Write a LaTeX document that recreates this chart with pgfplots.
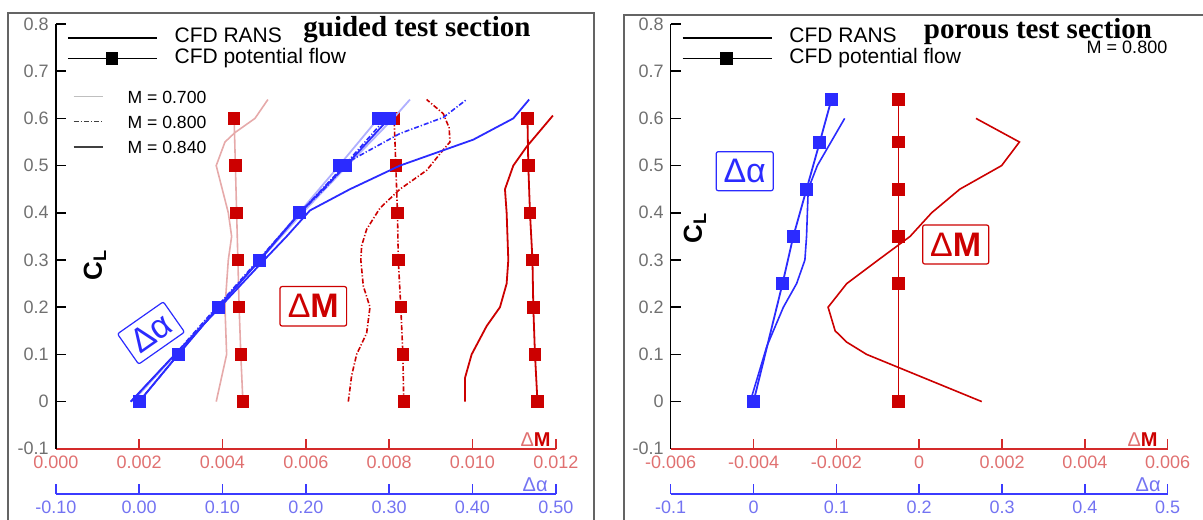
\documentclass[border=0pt]{standalone}
\usepackage{fontspec}
\setmainfont{Liberation Sans}
\newfontfamily\titlefont{Liberation Serif}
\usepackage{pgfplots}
\pgfplotsset{compat=1.18}

\definecolor{dblue}{HTML}{2B2BFF}
\definecolor{lblue}{HTML}{B0B0FF}
\definecolor{dred}{HTML}{CC0000}
\definecolor{lred}{HTML}{E6AAAA}
\definecolor{axred}{HTML}{D42A2A}
\definecolor{axblue}{HTML}{3B3BFF}
\definecolor{redlab}{HTML}{E07070}
\definecolor{bluelab}{HTML}{7373F2}
\definecolor{graylab}{HTML}{707070}
\definecolor{framec}{HTML}{646464}

\pgfplotsset{
  panel/.style={scale only axis, clip=false, ymin=-0.1, ymax=0.8,
    height=212.4pt, anchor=south west,
    tick label style={font=\fontsize{9}{10}\selectfont},
    scaled x ticks=false, scaled y ticks=false},
  mainax/.style={panel,
    axis x line*=bottom, axis y line*=left,
    x axis line style={draw=axred, line width=0.75pt},
    y axis line style={draw=black, line width=0.75pt},
    xtick align=inside, ytick align=inside,
    major tick length=5pt,
    xtick style={draw=axred, line width=0.75pt},
    ytick style={draw=black, line width=0.75pt},
    xticklabel style={text=redlab},
    yticklabel style={text=graylab},
    ytick={-0.1,0,0.1,0.2,0.3,0.4,0.5,0.6,0.7,0.8},
    yticklabels={-0.1,0,0.1,0.2,0.3,0.4,0.5,0.6,0.7,0.8},
    legend cell align=left,
    legend style={at={(0.0224,0.9906)}, anchor=north west, draw=none, fill=none,
      inner sep=0pt, outer sep=0pt, row sep=0.35pt, column sep=8.5pt,
      font=\fontsize{10.5}{12}\selectfont,
      nodes={inner sep=0pt, text height=7.5pt, text depth=2.5pt}},
    legend image code/.code={\draw[mark repeat=2,mark phase=2,##1] plot coordinates {(0pt,0pt) (22pt,0pt) (44.5pt,0pt)};},
  },
  blueax/.style={panel, hide axis, xmin=-0.1, xmax=0.5},
  alphaax/.style={scale only axis, anchor=south west, height=1pt, ymin=0, ymax=1,
    xmin=-0.1, xmax=0.5, axis x line*=bottom, axis y line=none, ytick=\empty,
    x axis line style={draw=axblue, line width=0.75pt},
    xtick align=inside, major tick length=5pt,
    xtick style={draw=axblue, line width=0.75pt},
    xticklabel style={text=bluelab},
    tick label style={font=\fontsize{9}{10}\selectfont},
    scaled x ticks=false,
    xtick={-0.1,0,0.1,0.2,0.3,0.4,0.5}},
  ddot/.style={dash pattern=on 2.5pt off 1pt on 0.6pt off 1pt},
  rpot/.style={mark=square*, mark size=2.7pt, mark options={solid, fill=dred, draw=dred}},
  bpot/.style={mark=square*, mark size=2.8pt, mark options={solid, fill=dblue, draw=dblue}},
}

\begin{document}
\begin{tikzpicture}
\useasboundingbox (0,0) rectangle (601.5pt,259.5pt);
% frames
\draw[framec, line width=0.75pt] (4pt,-10pt) -- (4pt,253pt) -- (297pt,253pt) -- (297pt,-10pt);
\draw[framec, line width=0.75pt] (312pt,-10pt) -- (312pt,252pt) -- (620pt,252pt);

%================ LEFT PANEL =================
\begin{axis}[mainax, at={(27.9pt,35.1pt)}, width=250pt,
  xmin=0, xmax=0.012,
  xtick={0,0.002,0.004,0.006,0.008,0.010,0.012},
  xticklabels={0.000,0.002,0.004,0.006,0.008,0.010,0.012}]
\addlegendimage{black, line width=0.8pt}
\addlegendentry{CFD RANS}
\addlegendimage{black, line width=0.8pt, mark=square*, mark size=2.7pt}
\addlegendentry{CFD potential flow}
% M=0.70
\addplot[lred, line width=0.8pt, forget plot] coordinates {(0.00385,0) (0.0041,0.1) (0.00406,0.2) (0.00414,0.3) (0.00422,0.35) (0.00414,0.4) (0.00385,0.5) (0.00406,0.55) (0.0043,0.57) (0.00478,0.6) (0.00509,0.64)};
\addplot[lred, line width=0.8pt, rpot, forget plot] coordinates {(0.00449,0) (0.00444,0.1) (0.00440,0.2) (0.00437,0.3) (0.00434,0.4) (0.00431,0.5) (0.00428,0.6)};
% M=0.80
\addplot[dred, line width=0.8pt, ddot, forget plot] coordinates {(0.00702,0) (0.0071,0.055) (0.00722,0.1) (0.00746,0.145) (0.00754,0.2) (0.00738,0.245) (0.00732,0.3) (0.00734,0.33) (0.00746,0.365) (0.00778,0.41) (0.00826,0.45) (0.0089,0.49) (0.00922,0.525) (0.00946,0.55) (0.00944,0.58) (0.0093,0.61) (0.0089,0.64)};
\addplot[dred, line width=0.8pt, ddot, rpot, forget plot] coordinates {(0.00835,0) (0.00833,0.1) (0.00828,0.2) (0.00822,0.3) (0.0082,0.4) (0.00816,0.5) (0.00812,0.6)};
% M=0.84
\addplot[dred, line width=0.9pt, forget plot] coordinates {(0.00982,0) (0.00982,0.05) (0.00998,0.1) (0.01034,0.16) (0.01066,0.2) (0.01082,0.25) (0.01086,0.3) (0.01082,0.4) (0.01078,0.45) (0.01098,0.5) (0.0113,0.54) (0.01193,0.606)};
\addplot[dred, line width=0.9pt, rpot, forget plot] coordinates {(0.01156,0) (0.0115,0.1) (0.01146,0.2) (0.01144,0.3) (0.01138,0.4) (0.01134,0.5) (0.01132,0.6)};
\end{axis}

\begin{axis}[blueax, at={(27.9pt,35.1pt)}, width=250pt,
  legend cell align=left,
  legend style={at={(0.034,0.8442)}, anchor=north west, draw=none, fill=none,
    inner sep=0pt, outer sep=0pt, row sep=6pt, column sep=12pt,
    font=\fontsize{8.8}{10}\selectfont,
    nodes={inner sep=0pt, text height=6.5pt, text depth=0pt}},
  legend image code/.code={\draw[#1] (0pt,0pt) -- (14.5pt,0pt);}]
\addlegendimage{black!25, line width=0.8pt}
\addlegendentry{M = 0.700}
\addlegendimage{black!75, line width=0.8pt, ddot}
\addlegendentry{M = 0.800}
\addlegendimage{black!75, line width=0.9pt}
\addlegendentry{M = 0.840}
% M=0.70
\addplot[lblue, line width=0.9pt, forget plot] coordinates {(-0.008,0) (0.044,0.1) (0.094,0.2) (0.145,0.3) (0.196,0.4) (0.25,0.5) (0.305,0.6) (0.325,0.64)};
\addplot[lblue, line width=0.9pt, bpot, forget plot] coordinates {(0,0) (0.047,0.1) (0.095,0.2) (0.144,0.3) (0.192,0.4) (0.240,0.5) (0.287,0.6)};
% M=0.80
\addplot[dblue, line width=0.8pt, ddot, forget plot] coordinates {(-0.01,0) (0.043,0.1) (0.093,0.2) (0.143,0.3) (0.193,0.4) (0.222,0.45) (0.253,0.51) (0.313,0.568) (0.365,0.602) (0.393,0.64)};
\addplot[dblue, line width=0.8pt, ddot, bpot, forget plot] coordinates {(0,0) (0.047,0.1) (0.095,0.2) (0.144,0.3) (0.193,0.4) (0.246,0.5) (0.296,0.6)};
% M=0.84
\addplot[dblue, line width=0.9pt, forget plot] coordinates {(-0.01,0) (0.043,0.1) (0.097,0.2) (0.15,0.3) (0.177,0.35) (0.205,0.405) (0.253,0.45) (0.313,0.5) (0.361,0.53) (0.401,0.555) (0.449,0.6) (0.468,0.64)};
\addplot[dblue, line width=0.9pt, bpot, forget plot] coordinates {(0,0) (0.047,0.1) (0.095,0.2) (0.145,0.3) (0.193,0.4) (0.248,0.5) (0.300,0.6)};
\end{axis}

\begin{axis}[alphaax, at={(27.9pt,12.5pt)}, width=250pt,
  xticklabels={-0.10,0.00,0.10,0.20,0.30,0.40,0.50}]
\end{axis}

%================ RIGHT PANEL =================
\begin{axis}[mainax, at={(335.35pt,35.1pt)}, width=248.5pt,
  xmin=-0.006, xmax=0.006,
  xtick={-0.006,-0.004,-0.002,0,0.002,0.004,0.006},
  xticklabels={-0.006,-0.004,-0.002,0,0.002,0.004,0.006}]
\addlegendimage{black, line width=0.8pt}
\addlegendentry{CFD RANS}
\addlegendimage{black, line width=0.8pt, mark=square*, mark size=2.7pt}
\addlegendentry{CFD potential flow}
\addplot[dred, line width=0.8pt, forget plot] coordinates {(0.00151,0) (-0.00127,0.1) (-0.00175,0.126) (-0.00203,0.15) (-0.0022,0.2) (-0.00175,0.25) (-0.00099,0.3) (-0.00022,0.35) (0.0003,0.4) (0.00098,0.45) (0.00199,0.5) (0.00242,0.55) (0.00137,0.6)};
\addplot[dred, line width=0.9pt, rpot, forget plot] coordinates {(-0.0005,0) (-0.0005,0.25) (-0.0005,0.35) (-0.0005,0.45) (-0.0005,0.55) (-0.0005,0.64)};
\end{axis}

\begin{axis}[blueax, at={(335.35pt,35.1pt)}, width=248.5pt]
\addplot[dblue, line width=0.8pt, forget plot] coordinates {(-0.004,0) (0.016,0.117) (0.036,0.2) (0.052,0.25) (0.062,0.3) (0.064,0.35) (0.066,0.45) (0.077,0.5) (0.110,0.6)};
\addplot[dblue, line width=0.9pt, bpot, forget plot] coordinates {(0,0) (0.035,0.25) (0.048,0.35) (0.064,0.45) (0.080,0.55) (0.094,0.64)};
\end{axis}

\begin{axis}[alphaax, at={(335.35pt,12.5pt)}, width=248.5pt,
  xticklabels={-0.1,0,0.1,0.2,0.3,0.4,0.5}]
\end{axis}

%================ TEXT =================
\node[anchor=base, font=\titlefont\bfseries\fontsize{14.5}{16}\selectfont] at (208.5pt,241.2pt) {guided test section};
\node[anchor=base, font=\titlefont\bfseries\fontsize{14.5}{16}\selectfont] at (519pt,240pt) {porous test section};
\node[font=\fontsize{9}{10}\selectfont] at (563.5pt,236pt) {M = 0.800};

\node[rotate=90, font=\bfseries\fontsize{13}{14}\selectfont] at (47.5pt,127pt) {C\textsubscript{L}};
\node[rotate=90, font=\bfseries\fontsize{13}{14}\selectfont] at (347.5pt,145.5pt) {C\textsubscript{L}};

\node[draw=dblue, text=dblue, rotate=35, line width=0.6pt, rounded corners=1pt, inner sep=0pt, minimum width=28pt, minimum height=18.5pt, font=\fontsize{17}{18}\selectfont] at (75.5pt,93pt) {Δα};
\node[draw=dblue, text=dblue, line width=0.6pt, rounded corners=1pt, inner sep=0pt, minimum width=28.5pt, minimum height=19.5pt, font=\fontsize{17}{18}\selectfont] at (372.35pt,173.9pt) {Δα};
\node[draw=dred, text=dred, line width=0.6pt, rounded corners=1pt, inner sep=0pt, minimum width=33.3pt, minimum height=19.7pt, font=\fontsize{17}{18}\selectfont] at (156.65pt,106.35pt) {Δ\textbf{M}};
\node[draw=dred, text=dred, line width=0.6pt, rounded corners=1pt, inner sep=0pt, minimum width=33pt, minimum height=19.5pt, font=\fontsize{17}{18}\selectfont] at (477.85pt,137.25pt) {Δ\textbf{M}};

% axis end labels
\node[anchor=south east, inner sep=0pt, font=\fontsize{10}{11}\selectfont] at (275.5pt,36.2pt) {\textcolor{redlab}{Δ}\textcolor{dred}{\textbf{M}}};
\node[anchor=south east, inner sep=0pt, font=\fontsize{10}{11}\selectfont] at (579pt,36.2pt) {\textcolor{redlab}{Δ}\textcolor{dred}{\textbf{M}}};
\node[anchor=south east, inner sep=0pt, text=bluelab, font=\fontsize{10}{11}\selectfont] at (274pt,13.7pt) {Δα};
\node[anchor=south east, inner sep=0pt, text=bluelab, font=\fontsize{10}{11}\selectfont] at (580.5pt,13.7pt) {Δα};
\end{tikzpicture}
\end{document}
